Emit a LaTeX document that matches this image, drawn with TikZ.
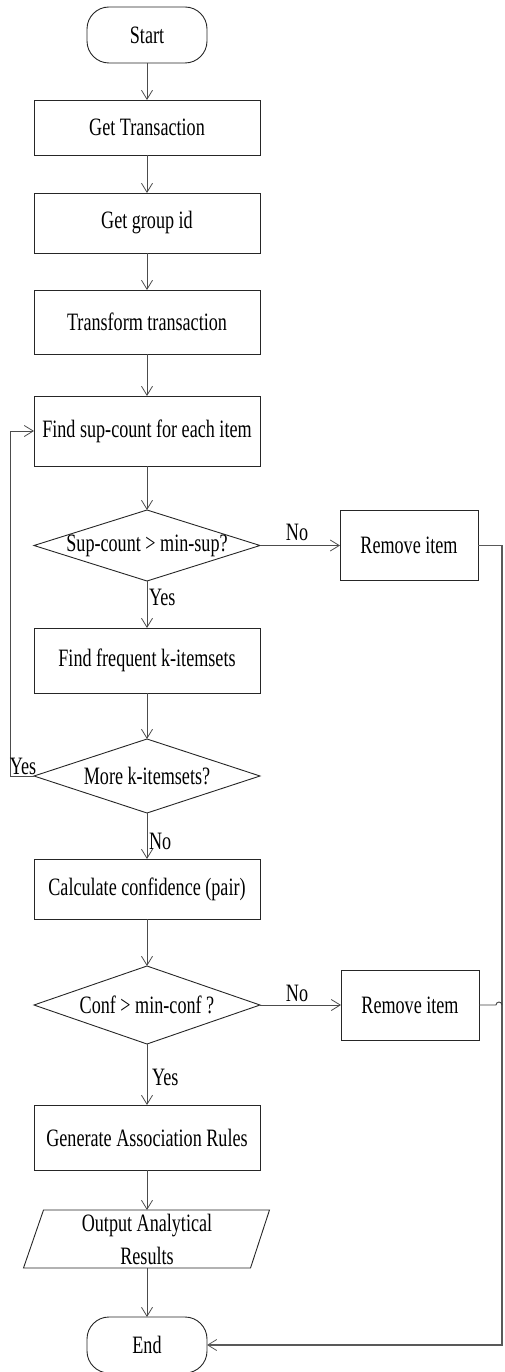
\documentclass[tikz,border=0pt]{standalone}
\usepackage{fontspec}
\setmainfont{Liberation Serif}[FakeStretch=0.725]
\usetikzlibrary{arrows.meta,shapes.geometric}
\begin{document}
\begin{tikzpicture}[x=1pt,y=-1pt,
  font=\fontsize{25}{33}\selectfont,
  every node/.style={inner sep=0pt, outer sep=0pt},
  proc/.style={draw=black!85, line width=0.9pt, rectangle, minimum width=226pt},
  term/.style={draw=black!85, line width=0.9pt, rectangle, rounded corners=22pt, minimum width=120pt, minimum height=56pt},
  dia/.style={draw=black!85, line width=0.9pt, diamond, minimum width=226pt},
  rem/.style={draw=black!85, line width=0.9pt, rectangle, minimum width=138pt, minimum height=70pt},
  conn/.style={draw=black!70, line width=0.8pt, -{Straight Barb[length=9pt,width=11pt,line width=0.8pt]}},
  back/.style={draw=black!65, line width=1.6pt},
  lbl/.style={inner sep=0pt}
]
\useasboundingbox (0,0) rectangle (504,1372);

\node[term] (start) at (147,35) {Start};
\node[proc, minimum height=55pt] (gt) at (147,127.5) {Get Transaction};
\node[proc, minimum height=60pt] (gg) at (147,223) {Get group id};
\node[proc, minimum height=64pt] (tt) at (147,322) {Transform transaction};
\node[proc, minimum height=70pt] (fs) at (147,431) {Find sup-count for each item};
\node[dia, minimum height=71pt, label=center:{Sup-count > min-sup?}] (d1) at (147,545.5) {};
\node[rem] (rm1) at (409,545.5) {Remove item};
\node[proc, minimum height=65pt] (ff) at (147,660.5) {Find frequent k-itemsets};
\node[dia, minimum height=74pt, label=center:{More k-itemsets?}] (d2) at (147,776) {};
\node[proc, minimum height=60pt] (cc) at (147,889) {Calculate confidence (pair)};
\node[dia, minimum height=78pt, label=center:{Conf > min-conf ?}] (d3) at (147,1005) {};
\node[rem] (rm2) at (410,1005) {Remove item};
\node[proc, minimum height=65pt] (gr) at (147,1137.5) {Generate Association Rules};
\node[minimum width=227pt, minimum height=58pt, align=center] (out) at (147,1239) {Output Analytical\\Results};
\draw[draw=black!85, line width=0.9pt] ([xshift=10pt]out.north west) -- ([xshift=9pt]out.north east) -- ([xshift=-10pt]out.south east) -- ([xshift=-10pt]out.south west) -- cycle;
\node[term] (end) at (147,1345) {End};

\coordinate (loopx) at (10,776);
\coordinate (rtop) at (502,545.5);
\coordinate (rbot) at (502,1345);
\coordinate (hop) at (496,1005);

\draw[conn] (start) -- (gt);
\draw[conn] (gt) -- (gg);
\draw[conn] (gg) -- (tt);
\draw[conn] (tt) -- (fs);
\draw[conn] (fs) -- (d1);
\draw[conn] (d1) -- (ff);
\draw[conn] (d1) -- (rm1);
\draw[conn] (ff) -- (d2);
\draw[conn] (d2.west) -- (loopx) |- (fs.west);
\draw[conn] (d2) -- (cc);
\draw[conn] (cc) -- (d3);
\draw[conn] (d3) -- (rm2);
\draw[conn] (d3) -- (gr);
\draw[conn] (gr) -- (out);
\draw[conn] (out) -- (end);

\draw[back, -{Straight Barb[length=9pt,width=11pt,line width=0.8pt]}] (rm1.east) -- (rtop) -- (rbot) -- (end.east);
\draw[draw=black!75, line width=0.9pt] (rm2.east) -- (hop) arc[start angle=180, end angle=0, radius=3pt];

\node[lbl] at (297,532) {No};
\node[lbl, anchor=west] at (149,597) {Yes};
\node[lbl] at (23,766) {Yes};
\node[lbl, anchor=west] at (149,841) {No};
\node[lbl] at (297,993) {No};
\node[lbl, anchor=west] at (152,1077) {Yes};
\end{tikzpicture}
\end{document}
